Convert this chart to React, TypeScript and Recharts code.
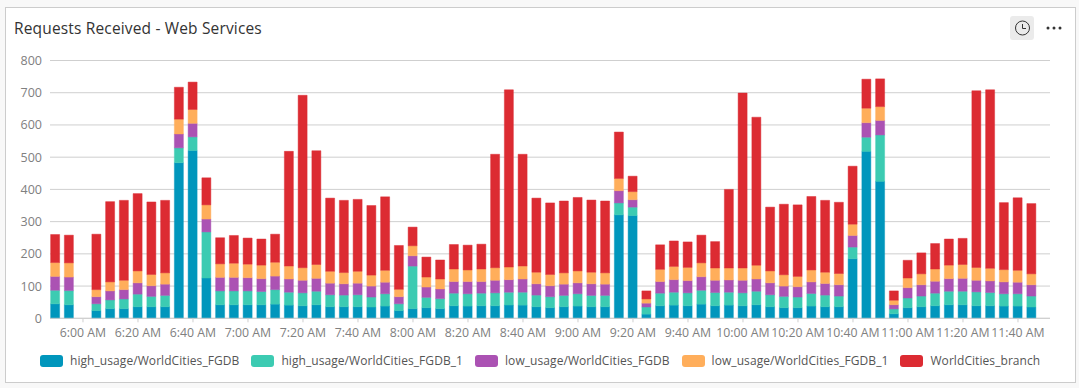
import React from 'react';
import { BarChart, Bar, XAxis, YAxis, CartesianGrid, Legend } from 'recharts';

// minutes after midnight, one bar every 5 minutes from 5:50 AM
const minutes = [
    350, 355, 360, 365, 370, 375, 380, 385, 390, 395, 400, 405, 410, 415, 420, 425, 430, 435,
    440, 445, 450, 455, 460, 465, 470, 475, 480, 485, 490, 495, 500, 505, 510, 515, 520, 525,
    530, 535, 540, 545, 550, 555, 560, 565, 570, 575, 580, 585, 590, 595, 600, 605, 610, 615,
    620, 625, 630, 635, 640, 645, 650, 655, 660, 665, 670, 675, 680, 685, 690, 695, 700, 705,
];

const highFgdb = [
    45, 42, null, 24, 30, 30, 36, 36, 36, 483, 521, 125, 42, 42, 42, 42, 44, 41,
    39, 42, 36, 36, 36, 35, 38, 24, 30, 33, 30, 39, 38, 39, 39, 41, 41, 36,
    33, 36, 38, 36, 36, 321, 319, 13, 39, 41, 39, 44, 39, 41, 39, 42, 36, 33,
    33, 38, 36, 36, 185, 518, 425, 14, 33, 36, 39, 42, 42, 39, 39, 38, 38, 35,
];
const highFgdb1 = [
    42, 44, null, 21, 27, 30, 39, 32, 35, 46, 42, 143, 43, 43, 43, 41, 45, 40,
    40, 42, 37, 36, 37, 31, 38, 21, 132, 32, 31, 39, 38, 39, 40, 40, 40, 36,
    34, 35, 38, 35, 35, 37, 26, 22, 39, 40, 40, 43, 41, 40, 40, 42, 37, 35,
    33, 39, 36, 33, 36, 44, 144, 15, 30, 33, 39, 42, 42, 43, 41, 38, 38, 34,
];
const lowFgdb = [
    43, 42, null, 22, 28, 29, 35, 33, 35, 43, 42, 40, 42, 42, 41, 40, 42, 41,
    39, 40, 36, 35, 36, 34, 36, 22, 32, 32, 30, 36, 38, 36, 39, 39, 41, 35,
    34, 35, 34, 36, 35, 38, 23, 12, 36, 39, 38, 42, 38, 38, 39, 38, 37, 32,
    32, 36, 36, 35, 36, 45, 45, 13, 32, 35, 37, 39, 40, 36, 36, 37, 36, 35,
];
const lowFgdb1 = [
    43, 44, null, 22, 28, 29, 37, 35, 35, 46, 43, 44, 42, 44, 42, 42, 43, 40,
    39, 43, 37, 35, 37, 34, 37, 23, 31, 31, 31, 39, 36, 39, 39, 39, 40, 36,
    35, 35, 37, 36, 35, 38, 25, 13, 38, 41, 41, 43, 38, 37, 38, 43, 37, 35,
    32, 37, 35, 35, 35, 45, 43, 14, 30, 34, 38, 42, 43, 40, 39, 38, 37, 34,
];
const branch = [
    87, 86, null, 172, 249, 248, 240, 225, 225, 99, 85, 84, 81, 86, 81, 81, 87, 356,
    535, 353, 227, 224, 223, 216, 228, 136, 58, 62, 59, 76, 77, 77, 352, 550, 347, 230,
    222, 223, 228, 224, 223, 144, 48, 25, 76, 79, 79, 86, 82, 244, 543, 459, 198, 219,
    222, 228, 223, 221, 180, 90, 86, 29, 55, 65, 79, 81, 81, 548, 554, 208, 225, 218,
];

const xTicks = [360, 380, 400, 420, 440, 460, 480, 500, 520, 540, 560, 580, 600, 620, 640, 660, 680, 700];
const yTicks = [0, 100, 200, 300, 400, 500, 600, 700, 800];

const seriesList = [
    { key: 'high1', name: 'high_usage/WorldCities_FGDB', color: '#0096bc' },
    { key: 'high2', name: 'high_usage/WorldCities_FGDB_1', color: '#3ccbb2' },
    { key: 'low1', name: 'low_usage/WorldCities_FGDB', color: '#ab52b3' },
    { key: 'low2', name: 'low_usage/WorldCities_FGDB_1', color: '#ffae5b' },
    { key: 'branch', name: 'WorldCities_branch', color: '#dc2b32' },
];

const chartData = minutes.map((m, i) => ({
    time: m,
    high1: highFgdb[i],
    high2: highFgdb1[i],
    low1: lowFgdb[i],
    low2: lowFgdb1[i],
    branch: branch[i],
}));

const FONT = '"Open Sans", sans-serif';

const formatTime = (m: number) => {
    const h = Math.floor(m / 60);
    const mm = m % 60;
    return `${h > 12 ? h - 12 : h}:${mm < 10 ? '0' : ''}${mm} AM`;
};

const ChartLegend = () => (
    <div style={{ display: 'flex', fontFamily: FONT, fontSize: 12, letterSpacing: 0.07, color: '#555', lineHeight: '14px' }}>
        {seriesList.map((s) => (
            <div key={s.key} style={{ display: 'flex', alignItems: 'center', marginRight: 12 }}>
                <span style={{ width: 23, height: 12, background: s.color, borderRadius: 3, marginRight: 7 }} />
                <span>{s.name}</span>
            </div>
        ))}
    </div>
);

export default function App() {
    return (
        <div style={{ position: 'absolute', left: 0, top: 0, width: 1079, height: 388, background: '#f8f8f8', overflow: 'hidden' }}>
            <div style={{ position: 'absolute', left: 5, top: 7, width: 1069, height: 374, background: '#fff', border: '1px solid #ccc' }} />
            <div style={{ position: 'absolute', left: 14, top: 17, fontFamily: FONT, fontSize: 15.5, letterSpacing: 0.16, lineHeight: '22px', color: '#333' }}>
                Requests Received - Web Services
            </div>
            <div style={{ position: 'absolute', left: 1010, top: 16, width: 24, height: 24, background: '#ebebeb', borderRadius: 3 }}>
                <svg width={24} height={24} viewBox="0 0 24 24">
                    <circle cx={12.5} cy={12} r={7} fill="none" stroke="#333" strokeWidth={1} />
                    <path d="M12.5 8 V12.5 H16" fill="none" stroke="#333" strokeWidth={1} />
                </svg>
            </div>
            <svg style={{ position: 'absolute', left: 1044, top: 22 }} width={20} height={12}>
                <circle cx={4} cy={6} r={1.5} fill="#333" />
                <circle cx={10} cy={6} r={1.5} fill="#333" />
                <circle cx={16} cy={6} r={1.5} fill="#333" />
            </svg>
            <div style={{ position: 'absolute', left: 0, top: 0 }}>
                <BarChart
                    width={1079}
                    height={388}
                    data={chartData}
                    margin={{ top: 60.5, right: 29, left: 0, bottom: 39.7 }}
                    barCategoryGap={0}
                >
                    <CartesianGrid vertical={false} stroke="#cfcfcf" strokeWidth={1} />
                    <XAxis
                        dataKey="time"
                        type="number"
                        scale="linear"
                        domain={[348, 711.64]}
                        allowDataOverflow
                        ticks={xTicks}
                        interval={0}
                        tickFormatter={formatTime}
                        axisLine={{ stroke: '#cfcfcf' }}
                        tickLine={{ stroke: '#cfcfcf' }}
                        tickSize={4}
                        tickMargin={6}
                        height={30}
                        tick={{ fill: '#808080', fontSize: 12.3, fontFamily: FONT }}
                    />
                    <YAxis
                        width={50}
                        domain={[0, 800]}
                        ticks={yTicks}
                        interval={0}
                        axisLine={false}
                        tickLine={false}
                        tickMargin={2}
                        tick={{ fill: '#808080', fontSize: 12.5, fontFamily: FONT }}
                    />
                    {seriesList.map((s) => (
                        <Bar
                            key={s.key}
                            dataKey={s.key}
                            name={s.name}
                            stackId="requests"
                            fill={s.color}
                            stroke={s.color}
                            strokeOpacity={0.45}
                            barSize={9}
                            isAnimationActive={false}
                        />
                    ))}
                    <Legend
                        verticalAlign="middle"
                        content={<ChartLegend />}
                        wrapperStyle={{ position: 'absolute', left: 40, top: 354, width: 1030 }}
                    />
                </BarChart>
            </div>
        </div>
    );
}
